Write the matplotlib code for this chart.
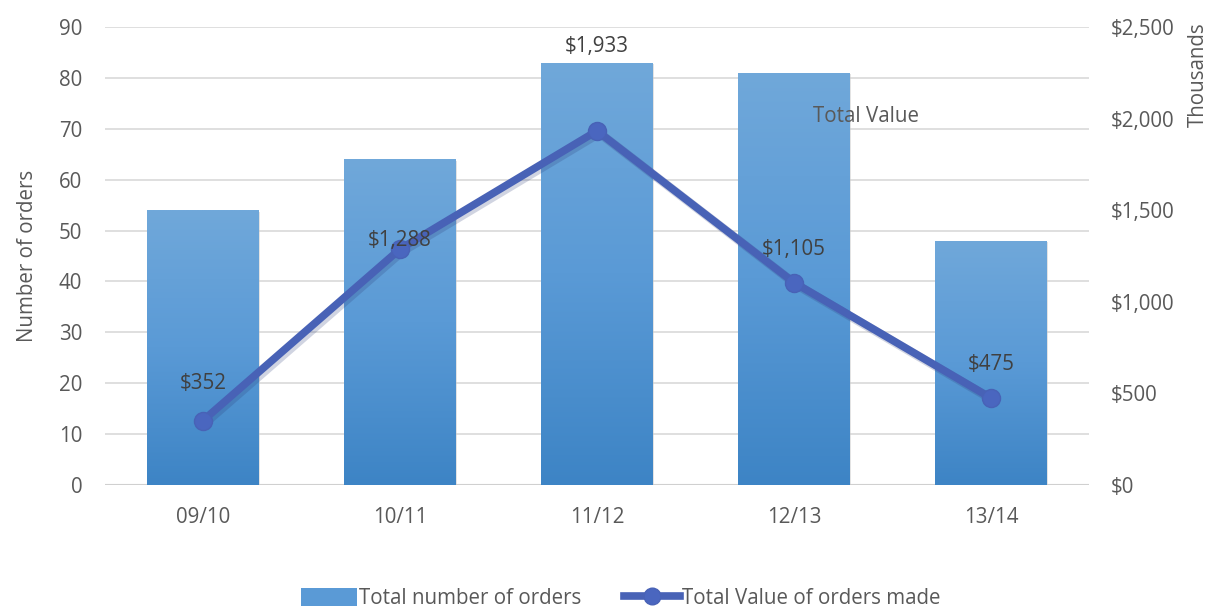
import matplotlib
matplotlib.use("Agg")
import matplotlib.pyplot as plt
import numpy as np
from matplotlib.patches import Rectangle
from matplotlib.colors import LinearSegmentedColormap
from matplotlib.lines import Line2D
from matplotlib.patches import Patch

categories = ["09/10", "10/11", "11/12", "12/13", "13/14"]
orders = [54, 64, 83, 81, 48]
value_thousands = [352, 1288, 1933, 1105, 475]
value_labels = ["$352", "$1,288", "$1,933", "$1,105", "$475"]
left_ticks = list(range(0, 91, 10))
right_ticks = [0, 500, 1000, 1500, 2000, 2500]
right_tick_labels = ["$0", "$500", "$1,000", "$1,500", "$2,000", "$2,500"]

plt.rcParams['font.family'] = ['Open Sans', 'DejaVu Sans']
TXT = '#595959'
fs = 14.8

fig = plt.figure(figsize=(12.1, 6.08), dpi=100)
ax = fig.add_axes([0.0864, 0.2023, 0.8140, 0.7533])
x = np.arange(len(categories))
bw = 0.565

ax.set_xlim(-0.5, len(categories) - 0.5)
ax.set_ylim(0, 90)
ax.set_yticks(left_ticks)
ax.grid(axis='y', color='#d9d9d9', lw=1.2, zorder=0)
ax.set_axisbelow(True)
for s in ax.spines.values():
    s.set_visible(False)
ax.axhline(0, color='#d0d0d0', lw=1.5, zorder=1)

cmap = LinearSegmentedColormap.from_list('bar', ['#3d84c5', '#5a9ad6', '#70a8da'])
grad = np.linspace(0, 1, 256).reshape(-1, 1)
bars = ax.bar(x, orders, width=bw, color='none', edgecolor='none', zorder=2)
for b in bars:
    bx, by, w, h = b.get_x(), b.get_y(), b.get_width(), b.get_height()
    sh = Rectangle((bx + 0.006, by), w, h - 0.3, facecolor='#c8c8c8', alpha=0.5, zorder=1.9)
    ax.add_patch(sh)
    im = ax.imshow(grad, extent=[bx, bx + w, by, by + h], origin='lower', cmap=cmap,
                   aspect='auto', zorder=2)
    im.set_clip_path(b)

ax.set_xticks(x)
ax.set_xticklabels(categories)
ax.tick_params(axis='x', length=0, pad=16, labelsize=fs, labelcolor=TXT)
ax.tick_params(axis='y', length=0, pad=16, labelsize=fs, labelcolor=TXT)
ax.set_ylabel("Number of orders", fontsize=fs, color=TXT, labelpad=15)

ax2 = ax.twinx()
ax2.set_ylim(0, 2500)
ax2.set_yticks(right_ticks)
ax2.set_yticklabels(right_tick_labels)
ax2.tick_params(axis='y', length=0, pad=15, labelsize=fs, labelcolor=TXT)
for s in ax2.spines.values():
    s.set_visible(False)
line_c = '#4862b6'
ax2.plot(x + 0.012, np.array(value_thousands) - 12, color='#2c3c78', lw=6.5, alpha=0.22,
         zorder=3, solid_capstyle='round')
ax2.plot(x, value_thousands, color=line_c, lw=5.5, marker='o', ms=13, mfc='#4a66bf',
         mec=line_c, zorder=4)
offsets = [37, 9, 84, 33, 33]
for xi, v, lab, off in zip(x, value_thousands, value_labels, offsets):
    ax2.annotate(lab, (xi, v), xytext=(0, off * 0.72), textcoords='offset points',
                 ha='center', va='center', fontsize=fs, color='#404040', zorder=5)

fig.text(0.716, 0.809, "Total Value", fontsize=fs, color=TXT, ha='center', va='center')
fig.text(0.990, 0.877, "Thousands", fontsize=fs, color=TXT, ha='center', va='center',
         rotation=90)

handles = [Patch(facecolor='#5a9ad6', edgecolor='none'),
           Line2D([0], [0], color=line_c, lw=5.5, marker='o', ms=12, mfc='#4a66bf', mec=line_c)]
leg = fig.legend(handles, ["Total number of orders", "Total Value of orders made"],
                 loc='center', bbox_to_anchor=(0.513, 0.016), ncol=2, frameon=False,
                 fontsize=fs, labelcolor=TXT, handlelength=2.7, handletextpad=0.1,
                 columnspacing=2.1, handleheight=1.0)

fig.savefig("out.png", dpi=100)
